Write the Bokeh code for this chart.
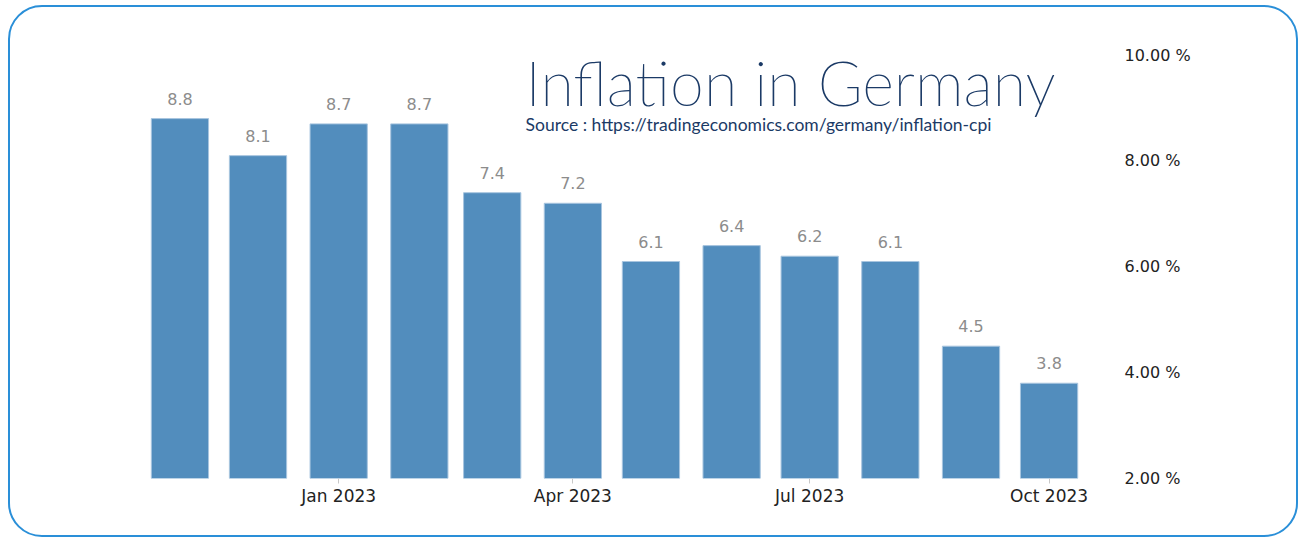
import pandas as pd
from bokeh.plotting import figure
from bokeh.models import (ColumnDataSource, Range1d, FixedTicker, DatetimeTickFormatter,
                          PrintfTickFormatter, Label)
from bokeh.embed import file_html
from bokeh.resources import INLINE
from bokeh.core.properties import value

# ---- data ----
months = ["2022-11-01", "2022-12-01", "2023-01-01", "2023-02-01", "2023-03-01", "2023-04-01",
          "2023-05-01", "2023-06-01", "2023-07-01", "2023-08-01", "2023-09-01", "2023-10-01"]
inflation = [8.8, 8.1, 8.7, 8.7, 7.4, 7.2, 6.1, 6.4, 6.2, 6.1, 4.5, 3.8]
x_tick_dates = ["2023-01-01", "2023-04-01", "2023-07-01", "2023-10-01"]
y_ticks = [2, 4, 6, 8, 10]
title_text = "Inflation in Germany"
source_text = "Source : https://tradingeconomics.com/germany/inflation-cpi"

DAY = 86400000.0


def ms(d):
    return pd.Timestamp(d).value / 1e6


xs = [ms(m) for m in months]
src = ColumnDataSource(dict(x=xs, top=inflation, label=["%.1f" % v for v in inflation]))

x_start = xs[0] - 19.0 * DAY
x_end = xs[-1] + 23.6 * DAY

p = figure(width=1290, height=532, x_axis_type="datetime", y_axis_location="right",
           output_backend="svg", toolbar_location=None,
           x_range=Range1d(x_start, x_end), y_range=Range1d(2, 10.2),
           min_border_left=120, min_border_right=190, min_border_top=37, min_border_bottom=61)

p.border_fill_alpha = 0
p.background_fill_alpha = 0
p.outline_line_color = None
p.xgrid.visible = False
p.ygrid.visible = False
p.styles = {"border": "2px solid #2a8fd8", "border-radius": "34px",
            "margin-left": "8px", "margin-top": "5px"}

p.vbar(x="x", top="top", width=22 * DAY, source=src,
       fill_color="#528dbd", line_color="#a8c5df", line_width=1)

p.text(x="x", y="top", text="label", source=src, text_align="center", text_baseline="bottom",
       y_offset=-14, text_color="#8c8c8c", text_font=value("DejaVu Sans"),
       text_font_size="16px")

# x axis
xa = p.xaxis[0]
xa.ticker = FixedTicker(ticks=[ms(d) for d in x_tick_dates])
xa.formatter = DatetimeTickFormatter(years="%b %Y", months="%b %Y", days="%b %Y",
                                     hours="%b %Y", minutes="%b %Y", seconds="%b %Y",
                                     milliseconds="%b %Y", microseconds="%b %Y",
                                     minsec="%b %Y", hourmin="%b %Y")
xa.axis_line_color = None
xa.major_tick_in = 0
xa.major_tick_out = 5
xa.major_tick_line_color = "#c8c8c8"
xa.minor_tick_line_color = None
xa.major_label_standoff = 2
xa.major_label_text_font = "DejaVu Sans"
xa.major_label_text_font_size = "17px"
xa.major_label_text_color = "#222222"

# y axis (right)
ya = p.yaxis[0]
ya.ticker = FixedTicker(ticks=y_ticks)
ya.formatter = PrintfTickFormatter(format="%.2f %%")
ya.axis_line_color = None
ya.major_tick_in = 0
ya.major_tick_out = 0
ya.major_tick_line_color = None
ya.minor_tick_line_color = None
ya.major_label_standoff = 14
ya.major_label_text_font = "DejaVu Sans"
ya.major_label_text_font_size = "16px"
ya.major_label_text_color = "#222222"

# title and source
title_x = ms("2023-03-13") + 20 * 3600000
p.add_layout(Label(x=title_x, y=9.48, text=title_text, text_font="Lato Thin",
                   text_font_size="61px", text_color="#1b3a66", text_baseline="alphabetic"))
p.add_layout(Label(x=title_x, y=8.69, text=source_text, text_font="Lato",
                   text_font_size="17.5px", text_color="#1b3a66", text_baseline="alphabetic"))

open("out.html", "w").write(file_html(p, INLINE))
